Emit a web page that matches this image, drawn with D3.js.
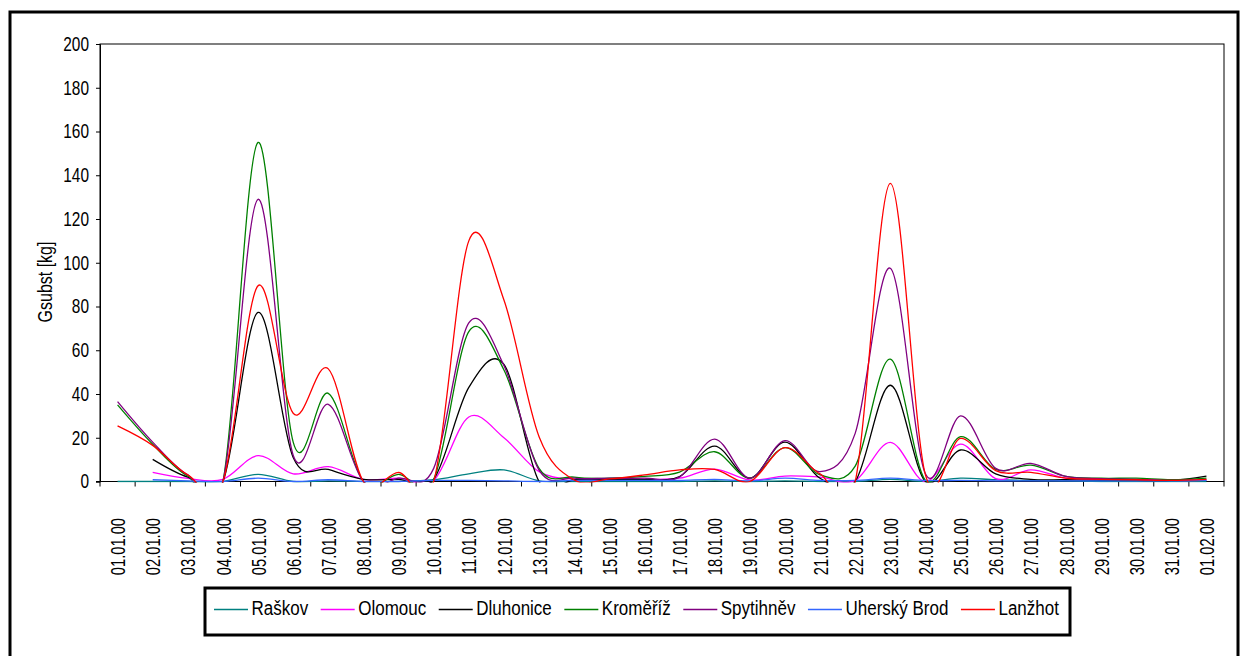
<!DOCTYPE html>
<html>
<head>
<meta charset="utf-8">
<script src="https://cdn.jsdelivr.net/npm/d3@7"></script>
<style>
  html, body { margin: 0; padding: 0; background: #fff; }
  svg { display: block; font-family: "Liberation Sans", Arial, sans-serif; }
</style>
</head>
<body>
<svg id="chart" width="1243" height="656"></svg>
<script>
// ---------------
// chart data
// ---------------

var days = [
  '01.01.00', '02.01.00', '03.01.00', '04.01.00', '05.01.00', '06.01.00', '07.01.00', '08.01.00',
  '09.01.00', '10.01.00', '11.01.00', '12.01.00', '13.01.00', '14.01.00', '15.01.00', '16.01.00',
  '17.01.00', '18.01.00', '19.01.00', '20.01.00', '21.01.00', '22.01.00', '23.01.00', '24.01.00',
  '25.01.00', '26.01.00', '27.01.00', '28.01.00', '29.01.00', '30.01.00', '31.01.00', '01.02.00'
];

var yTicks = [0, 20, 40, 60, 80, 100, 120, 140, 160, 180, 200];

var seriesNames = ['Raškov', 'Olomouc', 'Dluhonice', 'Kroměříž', 'Spytihněv', 'Uherský Brod', 'Lanžhot'];
var seriesColors = ['#008080', '#ff00ff', '#000000', '#008000', '#800080', '#3366ff', '#ff0000'];

var raskov = [0, 0, 0, 0, 3.3, 0, 0.3, 0, 0, 0.8, 3.5, 5.3, 0.3, 0, 0, 0,
  0, 0.3, 0, 0.3, 0, 0, 1, 0, 1.5, 0.8, 0.5, 0.3, 0, 0, 0, 0];
var olomouc = [null, 4.2, 1.4, 1, 11.8, 3.5, 6.8, 1, 1.5, 0.5, 29.5, 20, 4.5, 1, 1, 1,
  1.5, 5.7, 0.7, 2.5, 2, 0.5, 17.9, 0, 17.1, 1.3, 5.3, 1.5, 1, 1, 0.5, 0.5];
var dluhonice = [null, 10.1, 2, 0, 77.3, 11, 5.5, 1, 1, 1, 43, 53.5, 0, 0.8, 1, 1,
  2.3, 16.2, 1.5, 18, 1.5, 0, 44, 0, 14.4, 3.5, 1, 0.8, 0.5, 0.5, 0.5, 2.5];
var kromeriz = [35, 17, 2.5, 0, 155, 18, 40.3, 0, 3.3, 1, 68.5, 51, 6, 2, 1.5, 2.3,
  4.3, 13.6, 1.5, 15.5, 3, 7, 55.9, 0.5, 20.5, 5.5, 7.5, 2.3, 1.5, 1.5, 0.8, 1.5];
var spytihnev = [36.5, 18, 3, 0, 129, 12, 35.3, 0, 1.5, 6, 72.5, 53, 5.2, 1.5, 1.5, 1.5,
  2, 19.4, 1.5, 18.7, 4.5, 22, 97.5, 3.5, 30, 6, 8.3, 2.3, 1.3, 1, 0.5, 0.7];
var uherskyBrod = [null, 0.8, 0.3, 0, 1.5, 0, 0.8, 0, 0, 0.5, 0.5, 0.3, 0, 0.5, 0.5, 0.5,
  0.5, 1, 0.3, 1.5, 0.5, 0.5, 1.5, 0.5, 0.5, 0.3, 0.3, 0.3, 0.3, 0.3, 0.3, 0.5];
var lanzhot = [25.4, 16.5, 3, 0, 89.5, 31.2, 51.5, 0, 4.2, 0, 110, 83, 20.5, 0.7, 1.2, 3,
  5.3, 5.5, 0, 15.5, 3.5, 0, 136.3, 3, 19.7, 5, 4.2, 1.5, 1, 0.8, 0.5, 1];

var seriesValues = [raskov, olomouc, dluhonice, kromeriz, spytihnev, uherskyBrod, lanzhot];

// ---------------
// layout
// ---------------

var plot = { left: 100, top: 44, right: 1224, bottom: 481.5 };

var svg = d3.select('#chart');

// squeezes text horizontally like the narrow original rendering
var squeeze = function (sel, k) {
  sel.each(function () {
    var w = this.getComputedTextLength();
    d3.select(this)
      .attr('textLength', w * k)
      .attr('lengthAdjust', 'spacingAndGlyphs');
  });
};

var x = d3.scaleBand()
  .domain(days)
  .range([plot.left, plot.right]);

var y = d3.scaleLinear()
  .domain([0, 200])
  .range([plot.bottom, plot.top]);

// outer frame
svg.append('rect')
  .attr('x', 10)
  .attr('y', 12)
  .attr('width', 1228)
  .attr('height', 680)
  .attr('fill', 'none')
  .attr('stroke', '#000')
  .attr('stroke-width', 3);

// plot border
svg.append('rect')
  .attr('x', plot.left)
  .attr('y', plot.top)
  .attr('width', plot.right - plot.left)
  .attr('height', plot.bottom - plot.top)
  .attr('fill', 'none')
  .attr('stroke', '#000')
  .attr('stroke-width', 1);

// y axis
var yAxis = svg.append('g')
  .attr('transform', 'translate(' + plot.left + ',0)')
  .call(d3.axisLeft(y).tickValues(yTicks).tickSize(4).tickPadding(7));

yAxis.select('.domain').attr('stroke', '#000');
yAxis.selectAll('.tick line').attr('stroke', '#000');
yAxis.selectAll('.tick text')
  .attr('font-size', 20)
  .attr('font-family', '"Liberation Sans", Arial, sans-serif')
  .attr('fill', '#000')
  .call(squeeze, 0.77);

// y title
svg.append('text')
  .attr('transform', 'translate(45,282) rotate(-90)')
  .attr('text-anchor', 'middle')
  .attr('dy', '0.36em')
  .attr('font-size', 20)
  .text('Gsubst [kg]')
  .call(squeeze, 0.8);

// x axis: ticks sit on the category boundaries
var xAxis = svg.append('g').attr('class', 'x-axis');

xAxis.append('line')
  .attr('x1', plot.left - 4)
  .attr('x2', plot.right)
  .attr('y1', plot.bottom)
  .attr('y2', plot.bottom)
  .attr('stroke', '#000');

xAxis.selectAll('line.tick')
  .data(days.concat(['end']))
  .enter().append('line')
  .attr('class', 'tick')
  .attr('x1', function (d) { return d === 'end' ? plot.right : x(d); })
  .attr('x2', function (d) { return d === 'end' ? plot.right : x(d); })
  .attr('y1', plot.bottom)
  .attr('y2', plot.bottom + 5)
  .attr('stroke', '#000');

xAxis.selectAll('text')
  .data(days)
  .enter().append('text')
  .attr('transform', function (d) {
    return 'translate(' + (x(d) + x.bandwidth() / 2) + ',518) rotate(-90)';
  })
  .attr('text-anchor', 'end')
  .attr('dy', '0.36em')
  .attr('font-size', 21)
  .text(function (d) { return d; })
  .call(squeeze, 0.7);

// ---------------
// series lines
// ---------------

svg.append('clipPath')
  .attr('id', 'plot-clip')
  .append('rect')
  .attr('x', plot.left)
  .attr('y', plot.top)
  .attr('width', plot.right - plot.left)
  .attr('height', plot.bottom - plot.top + 1);

var line = d3.line()
  .defined(function (d) { return d !== null; })
  .x(function (d, i) { return x(days[i]) + x.bandwidth() / 2; })
  .y(function (d) { return y(d); })
  .curve(d3.curveCardinal.tension(0));

svg.append('g')
  .attr('clip-path', 'url(#plot-clip)')
  .selectAll('path')
  .data(seriesValues)
  .enter().append('path')
  .attr('d', line)
  .attr('fill', 'none')
  .attr('stroke', function (d, i) { return seriesColors[i]; })
  .attr('stroke-width', 1.3);

// ---------------
// legend
// ---------------

var legend = svg.append('g').attr('class', 'legend');

legend.append('rect')
  .attr('x', 205)
  .attr('y', 588)
  .attr('width', 865)
  .attr('height', 47)
  .attr('fill', '#fff')
  .attr('stroke', '#000')
  .attr('stroke-width', 3);

var lx = 214;
seriesNames.forEach(function (name, i) {
  legend.append('line')
    .attr('x1', lx)
    .attr('x2', lx + 34)
    .attr('y1', 609.5)
    .attr('y2', 609.5)
    .attr('stroke', seriesColors[i])
    .attr('stroke-width', 1.3);

  var t = legend.append('text')
    .attr('x', lx + 37.5)
    .attr('y', 615)
    .attr('font-size', 20)
    .text(name);
  var w = t.node().getComputedTextLength() * 0.85;
  t.attr('textLength', w).attr('lengthAdjust', 'spacingAndGlyphs');

  lx += 37.5 + w + 12.5;
});
</script>
</body>
</html>
